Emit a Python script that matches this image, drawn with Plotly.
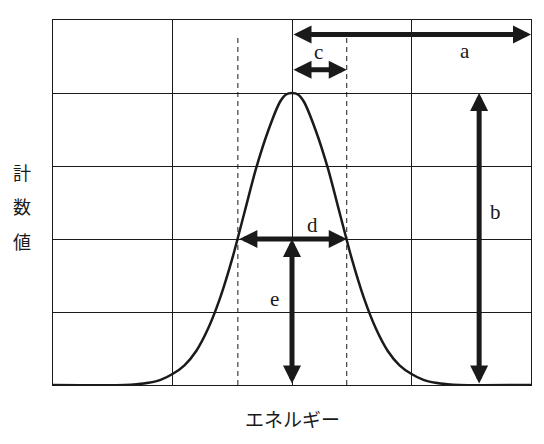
import plotly.graph_objects as go

# Curve (grid units: x 0..4, y 0..5)
curve_x = [0.0, 0.6, 0.7, 0.8, 0.9, 1.0, 1.1, 1.2, 1.3, 1.4, 1.5, 1.6, 1.7, 1.8, 1.9, 1.95, 2.0,
           2.05, 2.1, 2.2, 2.3, 2.4, 2.5, 2.6, 2.7, 2.8, 2.9, 3.0, 3.1, 3.2, 3.3, 3.4, 4.0]
curve_y = [0.0, 0.0, 0.01, 0.03, 0.07, 0.15, 0.27, 0.47, 0.78, 1.20, 1.73, 2.35, 2.97, 3.48, 3.88, 3.98, 4.0,
           3.98, 3.88, 3.48, 2.97, 2.35, 1.73, 1.20, 0.78, 0.47, 0.27, 0.15, 0.07, 0.03, 0.01, 0.0, 0.0]

# Dashed guide lines (half maximum positions)
dash_x = [1.547, 2.458]
dash_top = 4.76

# Arrows: (x_start, y_start, x_end, y_end)
arrow_a = (2.0, 4.80, 4.0, 4.80)
arrow_c = (2.0, 4.32, 2.458, 4.32)
arrow_b = (3.566, 0.0, 3.566, 4.0)
arrow_d = (1.547, 2.0, 2.458, 2.0)
arrow_e = (2.0, 0.0, 2.0, 2.0)

labels = ["a", "c", "b", "d", "e"]
label_x = [3.445, 2.224, 3.70, 2.17, 1.856]
label_y = [4.57, 4.56, 2.37, 2.19, 1.18]

y_title_chars = ["計", "数", "値"]
x_title = "エネルギー"

INK = "#1a1a1a"
OFF = 8  # page body margin
W, H = 544 - OFF, 444 - OFF
plot_l, plot_r, plot_t, plot_b = 53 - OFF, 531 - OFF, 20 - OFF, 385 - OFF

fig = go.Figure()

for dx in dash_x:
    fig.add_trace(go.Scatter(x=[dx, dx], y=[0, dash_top], mode="lines",
                             line=dict(color=INK, width=1, dash="5px,4px"),
                             hoverinfo="skip", showlegend=False))

fig.add_trace(go.Scatter(x=curve_x, y=curve_y, mode="lines",
                         line=dict(color=INK, width=2.5, shape="spline", smoothing=0.8),
                         hoverinfo="skip", showlegend=False))

for (x0, y0, x1, y1) in [arrow_a, arrow_c, arrow_b, arrow_d, arrow_e]:
    fig.add_annotation(
        x=x1, y=y1, ax=x0, ay=y0, xref="x", yref="y", axref="x", ayref="y",
        text="", showarrow=True, arrowside="end+start",
        arrowhead=2, startarrowhead=2, arrowwidth=5, arrowsize=0.72, startarrowsize=0.72,
        standoff=0, startstandoff=0, arrowcolor=INK)

for t, lx, ly in zip(labels, label_x, label_y):
    fig.add_annotation(x=lx, y=ly, xref="x", yref="y", text=t, showarrow=False,
                       font=dict(family="Liberation Serif, Times New Roman, serif", size=21, color=INK))


def px_to_paper(px, py):
    px -= OFF
    py -= OFF
    return (px - plot_l) / (plot_r - plot_l), (plot_b - py) / (plot_b - plot_t)


for i, ch in enumerate(y_title_chars):
    xx, yy = px_to_paper(22, 172 + 34.5 * i)
    fig.add_annotation(x=xx, y=yy, xref="paper", yref="paper", text=ch, showarrow=False,
                       xanchor="center", yanchor="middle",
                       font=dict(family="Noto Sans CJK JP", size=18, color=INK))

xx, yy = px_to_paper(292, 418)
fig.add_annotation(x=xx, y=yy, xref="paper", yref="paper", text=x_title, showarrow=False,
                   xanchor="center", yanchor="middle",
                   font=dict(family="Noto Sans CJK JP", size=19, color=INK))

fig.update_layout(
    width=W, height=H,
    margin=dict(l=plot_l, r=W - plot_r, t=plot_t, b=H - plot_b),
    paper_bgcolor="white", plot_bgcolor="white",
    xaxis=dict(range=[0, 4], dtick=1, showgrid=True, gridcolor=INK, gridwidth=1,
               showticklabels=False, zeroline=False, showline=True, mirror=True,
               linecolor=INK, linewidth=1, ticks=""),
    yaxis=dict(range=[0, 5], dtick=1, showgrid=True, gridcolor=INK, gridwidth=1,
               showticklabels=False, zeroline=False, showline=True, mirror=True,
               linecolor=INK, linewidth=1, ticks=""),
)

fig.write_html("out.html")
